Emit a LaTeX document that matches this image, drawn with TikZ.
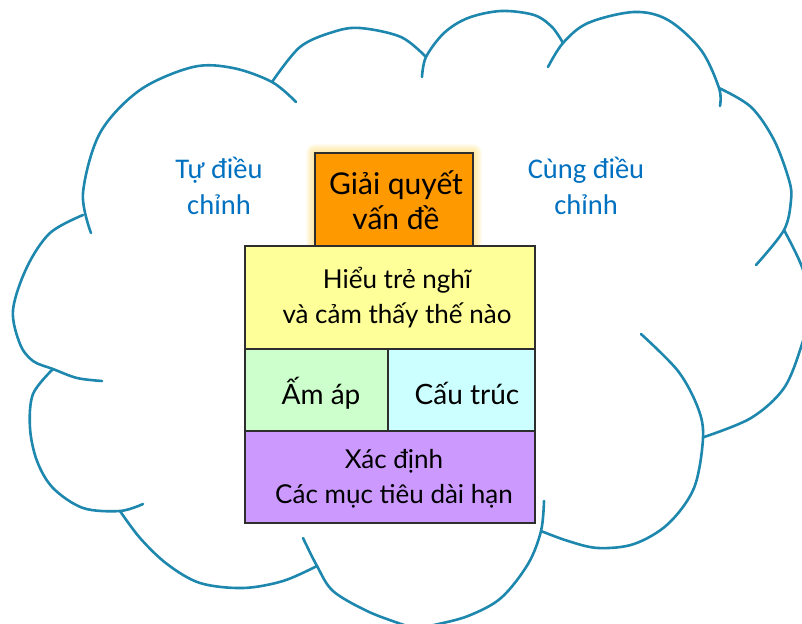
\documentclass[tikz,border=0pt]{standalone}
\usepackage{fontspec}
\setmainfont{Lato}
\newfontfamily\bluefont{Carlito}
\definecolor{cloudc}{HTML}{1E87AE}
\definecolor{edgec}{HTML}{2E2E2E}
\definecolor{orangeF}{HTML}{FF9900}
\definecolor{yellowF}{HTML}{FFFF99}
\definecolor{greenF}{HTML}{CCFFCC}
\definecolor{cyanF}{HTML}{CCFFFF}
\definecolor{purpleF}{HTML}{CC99FF}
\definecolor{glowc}{HTML}{FFD966}
\definecolor{bluetext}{HTML}{0070C0}
\begin{document}
\begin{tikzpicture}[x=1pt,y=-1pt,
  cloudline/.style={draw=cloudc, line width=2.6pt, line cap=round},
  box/.style={draw=edgec, line width=2pt, rectangle, inner sep=0pt},
  lbl/.style={align=center, text=black, inner sep=0pt,
    font=\fontsize{26}{35}\selectfont},
  side/.style={align=center, text=bluetext, inner sep=0pt,
    font=\bluefont\fontsize{28.5}{36}\selectfont}]
\useasboundingbox (0,0) rectangle (802,623);
\begin{scope}
\clip (0,0) rectangle (802,623);
% cloud outline, one arc per bump, clockwise from the upper left
\draw[cloudline] plot[smooth, tension=0.55] coordinates {(91,233) (83,193) (100,133) (140,90) (193,67) (233,68) (272,82) (296,102)};
\draw[cloudline] plot[smooth, tension=0.55] coordinates {(272,82) (300,47) (333,32) (360,28) (401,37) (426,57)};
\draw[cloudline] plot[smooth, tension=0.55] coordinates {(422,77) (426,57) (444,33) (468,18) (501,11) (534,15) (552,27) (563,43)};
\draw[cloudline] plot[smooth, tension=0.55] coordinates {(548,67) (563,43) (588,23) (634,12) (668,20) (701,50) (719,88) (720,106)};
\draw[cloudline] plot[smooth, tension=0.55] coordinates {(719,88) (751,107) (774,140) (789,180) (791,200) (784,230) (756,265)};
\draw[cloudline] plot[smooth, tension=0.55] coordinates {(784,230) (802,267) (811,305) (802,344) (784,388) (751,418) (704,437)};
\draw[cloudline] plot[smooth, tension=0.55] coordinates {(641,334) (678,371) (698,408) (703,438) (694,488) (668,524) (634,544) (598,548) (568,541) (541,531)};
\draw[cloudline] plot[smooth, tension=0.55] coordinates {(544,501) (541,531) (528,564) (501,598) (468,616) (434,625) (410,630)};
\draw[cloudline] plot[smooth, tension=0.55] coordinates {(303,538) (317,566) (333,591) (367,611) (401,624) (420,630)};
\draw[cloudline] plot[smooth, tension=0.55] coordinates {(317,566) (283,581) (243,588) (200,583) (167,564) (140,538) (120,511)};
\draw[cloudline] plot[smooth, tension=0.55] coordinates {(53,369) (33,394) (30,428) (37,461) (53,488) (83,508) (120,511) (143,504)};
\draw[cloudline] plot[smooth, tension=0.55] coordinates {(83,215) (50,233) (27,267) (13,310) (20,344) (33,361) (53,369) (77,378) (102,381)};
\end{scope}

% soft glow behind the top block
\foreach \g in {1,...,9}
  \fill[glowc, opacity=0.09, rounded corners=\g pt]
    (315-\g,153-\g) rectangle (473+\g,250);

% stacked blocks
\node[box, fill=orangeF, minimum width=158pt, minimum height=93pt] (solve) at (394,199.5) {};
\node[box, fill=yellowF, minimum width=290pt, minimum height=103pt] (think) at (390,297.5) {};
\node[box, fill=greenF, minimum width=143pt, minimum height=82pt] (warm) at (316.5,390) {};
\node[box, fill=cyanF, minimum width=147pt, minimum height=82pt] (struct) at (461.5,390) {};
\node[box, fill=purpleF, minimum width=290pt, minimum height=92pt] (goals) at (390,477) {};

% block captions (anchored on the baseline of the last line)
\node[lbl, anchor=base, font=\fontsize{30}{35}\selectfont] (solveT) at (396,229) {Giải quyết\\vấn đề};
\node[lbl, anchor=base] (thinkT) at (397,323) {Hiểu trẻ nghĩ\\và cảm thấy thế nào};
\node[lbl, anchor=base, font=\fontsize{28}{35}\selectfont] (warmT) at (321,404) {Ấm áp};
\node[lbl, anchor=base, font=\fontsize{28}{35}\selectfont] (structT) at (467,404) {Cấu trúc};
\node[lbl, anchor=base] (goalsT) at (394,503) {Xác định\\Các mục tiêu dài hạn};

% side captions
\node[side, anchor=base] (selfT) at (219,214) {Tự điều\\chỉnh};
\node[side, anchor=base] (coT) at (586,214) {Cùng điều\\chỉnh};
\end{tikzpicture}
\end{document}
